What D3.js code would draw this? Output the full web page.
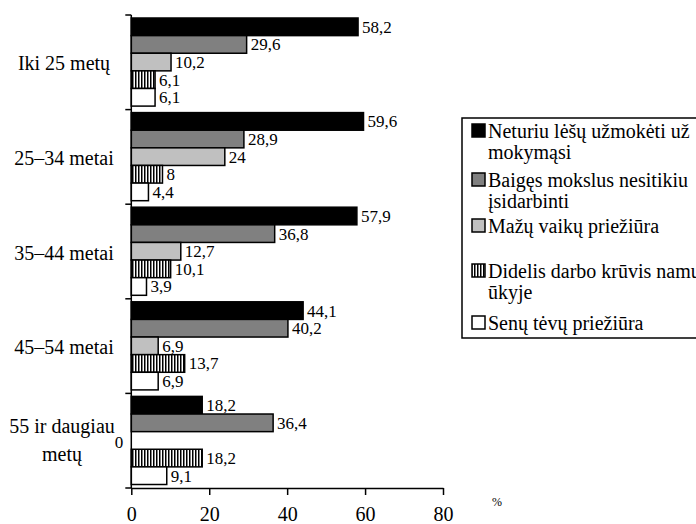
<!DOCTYPE html>
<html>
<head>
<meta charset="utf-8">
<script src="https://cdn.jsdelivr.net/npm/d3@7"></script>
<style>
  html, body { margin: 0; padding: 0; background: #fff; }
  svg text { font-family: 'Liberation Serif', 'Times New Roman', Times, 'DejaVu Serif', serif; }
</style>
</head>
<body>
<svg id="chart" width="696" height="524"></svg>
<script>
// ---- data ----
const categories = ["Iki 25 metų", "25–34 metai", "35–44 metai", "45–54 metai", "55 ir daugiau metų"];
const categoryLines = [["Iki 25 metų"], ["25–34 metai"], ["35–44 metai"], ["45–54 metai"], ["55 ir daugiau", "metų"]];
const seriesNames = ["Neturiu lėšų užmokėti už mokymąsi", "Baigęs mokslus nesitikiu įsidarbinti", "Mažų vaikų priežiūra", "Didelis darbo krūvis namų ūkyje", "Senų tėvų priežiūra"];
const legendLines = [["Neturiu lėšų užmokėti už", "mokymąsi"], ["Baigęs mokslus nesitikiu", "įsidarbinti"], ["Mažų vaikų priežiūra"], ["Didelis darbo krūvis namų", "ūkyje"], ["Senų tėvų priežiūra"]];
const neturiuLesu = [58.2, 59.6, 57.9, 44.1, 18.2];
const baigesMokslus = [29.6, 28.9, 36.8, 40.2, 36.4];
const mazuVaiku = [10.2, 24, 12.7, 6.9, 0];
const didelisKruvis = [6.1, 8, 10.1, 13.7, 18.2];
const senuTevu = [6.1, 4.4, 3.9, 6.9, 9.1];
const xTicks = [0, 20, 40, 60, 80];
const xUnit = "%";

const seriesValues = [neturiuLesu, baigesMokslus, mazuVaiku, didelisKruvis, senuTevu];

// ---- styles ----
const FONT = "'Liberation Serif', 'Times New Roman', Times, 'DejaVu Serif', serif";
const fills = ["#000000", "#808080", "#c0c0c0", "url(#vhatch)", "#ffffff"];

const svg = d3.select("#chart");
const defs = svg.append("defs");
const pat = defs.append("pattern").attr("id", "vhatch").attr("patternUnits", "userSpaceOnUse")
  .attr("width", 3).attr("height", 10);
pat.append("rect").attr("width", 3).attr("height", 10).attr("fill", "#fff");
pat.append("rect").attr("x", 0).attr("width", 1.5).attr("height", 10).attr("fill", "#000");

const x = d3.scaleLinear().domain([0, 80]).range([131.3, 443]);
const y = d3.scaleBand().domain(categories).range([15, 488]).padding(0);
const ySub = d3.scaleBand().domain(d3.range(seriesNames.length)).range([3, y.bandwidth() - 3.5]).padding(0);

const fmt = v => String(v).replace(".", ",");

// bars
const groups = svg.append("g").selectAll("g").data(categories).join("g")
  .attr("transform", d => `translate(0,${y(d)})`);

groups.each(function (cat, ci) {
  const g = d3.select(this);
  seriesValues.forEach((vals, si) => {
    const v = vals[ci];
    const by = ySub(si);
    const bh = ySub.bandwidth();
    if (v > 0) {
      g.append("rect")
        .attr("x", x(0)).attr("y", by)
        .attr("width", x(v) - x(0)).attr("height", bh)
        .attr("fill", fills[si]).attr("stroke", "#000").attr("stroke-width", 1.5);
      g.append("text")
        .attr("x", x(v) + 4).attr("y", by + bh / 2).attr("dy", "0.35em")
        .attr("font-family", FONT).attr("font-size", 17).text(fmt(v));
    } else {
      g.append("text")
        .attr("x", x(0) - 8).attr("y", by + bh / 2 + 2).attr("dy", "0.35em")
        .attr("text-anchor", "end").attr("font-family", FONT).attr("font-size", 17).text(fmt(v));
    }
  });
});

// y axis
const yAxisG = svg.append("g");
yAxisG.append("line").attr("x1", x(0)).attr("x2", x(0)).attr("y1", y.range()[0]).attr("y2", y.range()[1])
  .attr("stroke", "#000").attr("stroke-width", 1.5);
const boundaries = categories.map(c => y(c)).concat([y.range()[1]]);
yAxisG.selectAll("line.tk").data(boundaries).join("line").attr("class", "tk")
  .attr("x1", x(0) - 6).attr("x2", x(0)).attr("y1", d => d).attr("y2", d => d)
  .attr("stroke", "#000").attr("stroke-width", 1.5);

// category labels
categories.forEach((c, i) => {
  const lines = categoryLines[i];
  const cy = y(c) + y.bandwidth() / 2;
  const t = svg.append("text").attr("text-anchor", "middle").attr("font-family", FONT).attr("font-size", 20);
  if (lines.length === 1) {
    t.append("tspan").attr("x", 64).attr("y", cy + 8).text(lines[0]);
  } else {
    t.append("tspan").attr("x", 62).attr("y", cy - 8).text(lines[0]);
    t.append("tspan").attr("x", 62).attr("y", cy + 20).text(lines[1]);
  }
});

// x axis
const xAxis = d3.axisBottom(x).tickValues(xTicks).tickSize(7).tickSizeOuter(0).tickFormat(d => d);
const xg = svg.append("g").attr("transform", `translate(0,${y.range()[1]})`).call(xAxis);
xg.attr("font-family", FONT);
xg.select(".domain").attr("stroke", "#000").attr("stroke-width", 1.5);
xg.selectAll(".tick line").attr("stroke", "#000").attr("stroke-width", 1.5);
xg.selectAll(".tick text").attr("y", 33).attr("dy", "0")
  .attr("font-size", 20).attr("font-family", FONT).attr("fill", "#000");

svg.append("text").attr("x", 492).attr("y", 506).attr("font-family", FONT).attr("font-size", 12).text(xUnit);

// legend
const lg = svg.append("g");
lg.append("rect").attr("x", 462).attr("y", 118).attr("width", 300).attr("height", 220)
  .attr("fill", "#fff").attr("stroke", "#000").attr("stroke-width", 1.5);
const legendBase = [138, 187, 233, 278, 330];
seriesNames.forEach((name, i) => {
  const by = legendBase[i];
  lg.append("rect").attr("x", 472).attr("y", by - 14).attr("width", 13).attr("height", 13)
    .attr("fill", fills[i]).attr("stroke", "#000").attr("stroke-width", 1.5);
  const t = lg.append("text").attr("font-family", FONT).attr("font-size", 20);
  legendLines[i].forEach((ln, li) => {
    t.append("tspan").attr("x", 488).attr("y", by + li * 21).text(ln);
  });
});
</script>
</body>
</html>
